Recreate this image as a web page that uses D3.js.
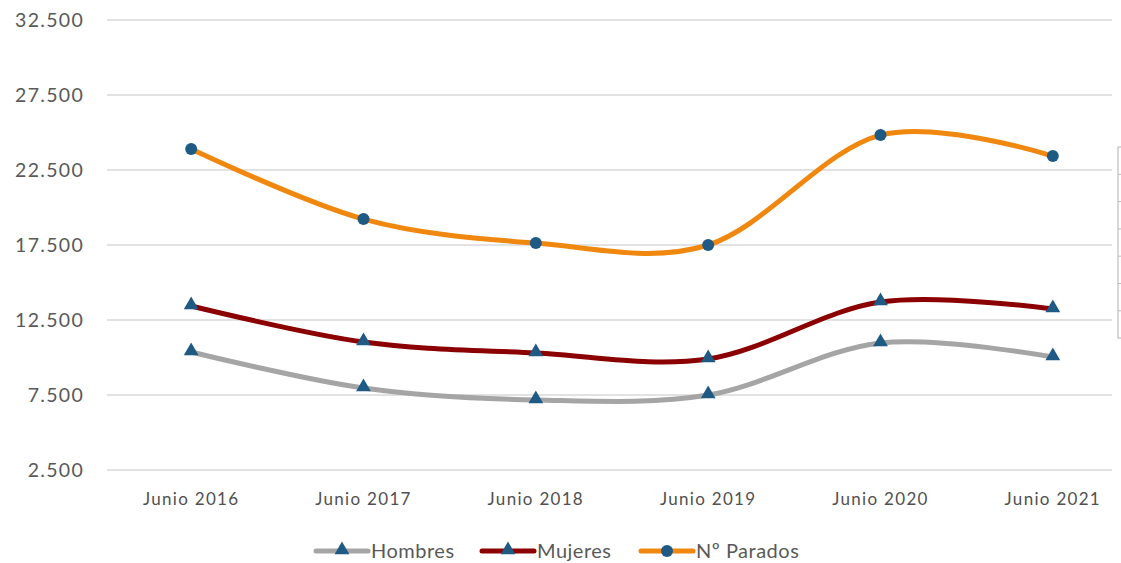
<!DOCTYPE html>
<html>
<head>
<meta charset="utf-8">
<script src="https://cdn.jsdelivr.net/npm/d3@7"></script>
<style>
  body { margin: 0; background: #fff; }
  svg { display: block; font-family: 'Lato', 'Open Sans', sans-serif; }
</style>
</head>
<body>
<svg class="paroSVG" width="1121" height="563"></svg>
<script>
// datos
const years = ['Junio 2016', 'Junio 2017', 'Junio 2018', 'Junio 2019', 'Junio 2020', 'Junio 2021'];
const hombres = [10370, 7970, 7170, 7500, 10970, 10030];
const mujeres = [13430, 11030, 10300, 9900, 13700, 13230];
const parados = [23900, 19230, 17630, 17500, 24830, 23430];
const yTicks = [2500, 7500, 12500, 17500, 22500, 27500, 32500];

const seriesNames = ['Hombres', 'Mujeres', 'Nº Parados'];
const seriesColors = ['#a5a5a5', '#8b0000', '#f0880f'];
const seriesMarkers = ['triangle', 'triangle', 'circle'];
const markerColor = '#1f5a85';

const svg = d3.select('svg.paroSVG');

const x = d3.scalePoint()
  .domain(years)
  .range([105, 1139])
  .padding(0.5);

const y = d3.scaleLinear()
  .domain([2500, 32500])
  .range([470, 20]);

const fmt = d => d3.format(',')(d).replace(/,/g, '.');

// gridlines
svg.append('g')
  .selectAll('line')
  .data(yTicks)
  .enter()
  .append('line')
  .attr('x1', 107)
  .attr('x2', 1112)
  .attr('y1', d => y(d))
  .attr('y2', d => y(d))
  .style('stroke', '#d9d9d9')
  .style('stroke-width', '1.3px');

// y labels
svg.append('g')
  .selectAll('text')
  .data(yTicks)
  .enter()
  .append('text')
  .text(d => fmt(d))
  .attr('x', 84)
  .attr('y', d => y(d) + 7)
  .style('text-anchor', 'end')
  .style('fill', '#595959')
  .style('font-size', '19.5px')
  .style('letter-spacing', '1.3px');

// x labels
svg.append('g')
  .selectAll('text')
  .data(years)
  .enter()
  .append('text')
  .text(d => d)
  .attr('x', d => x(d))
  .attr('y', 505)
  .style('text-anchor', 'middle')
  .style('fill', '#505050')
  .style('font-size', '17px')
  .style('letter-spacing', '1.3px');

// cut-off table at the right edge
const tbl = svg.append('g');
tbl.append('rect')
  .attr('x', 1118).attr('y', 147).attr('width', 10).attr('height', 191)
  .style('fill', 'none').style('stroke', '#bfbfbf').style('stroke-width', '1.2px');
tbl.selectAll('line')
  .data(d3.range(1, 7))
  .enter()
  .append('line')
  .attr('x1', 1118).attr('x2', 1121)
  .attr('y1', d => 147 + d * 27.3).attr('y2', d => 147 + d * 27.3)
  .style('stroke', '#bfbfbf');

const line = d3.line()
  .x((d, i) => x(years[i]))
  .y(d => y(d))
  .curve(d3.curveCardinal.tension(0));

const allSeries = [hombres, mujeres, parados];

const triangle = d3.symbol().type(d3.symbolTriangle).size(95);

function drawMarker(g, type, cx, cy) {
  if (type === 'circle') {
    g.append('circle')
      .attr('cx', cx).attr('cy', cy).attr('r', 6)
      .style('fill', markerColor);
  } else {
    g.append('path')
      .attr('d', triangle())
      .attr('transform', `translate(${cx},${cy - 1})`)
      .style('fill', markerColor);
  }
}

allSeries.forEach((vals, s) => {
  const g = svg.append('g');
  g.append('path')
    .datum(vals)
    .attr('d', line)
    .style('fill', 'none')
    .style('stroke', seriesColors[s])
    .style('stroke-width', '5px')
    .style('stroke-linecap', 'round');
  vals.forEach((v, i) => drawMarker(g, seriesMarkers[s], x(years[i]), y(v)));
});

// legend
const legendX = [316, 482, 641];
const legend = svg.append('g');
seriesNames.forEach((name, s) => {
  const lx = legendX[s];
  legend.append('line')
    .attr('x1', lx).attr('x2', lx + 52)
    .attr('y1', 551).attr('y2', 551)
    .style('stroke', seriesColors[s])
    .style('stroke-width', '5px')
    .style('stroke-linecap', 'round');
  drawMarker(legend, seriesMarkers[s], lx + 26, 551);
  legend.append('text')
    .text(name)
    .attr('x', lx + 55)
    .attr('y', 558)
    .style('fill', '#595959')
    .style('font-size', '20px')
    .style('letter-spacing', '0.5px');
});
</script>
</body>
</html>
